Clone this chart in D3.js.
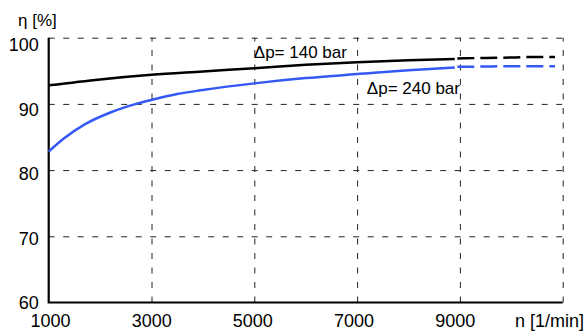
<!DOCTYPE html>
<html>
<head>
<meta charset="utf-8">
<script src="https://cdn.jsdelivr.net/npm/d3@7"></script>
<style>
  html, body { margin: 0; padding: 0; background: #fff; }
  svg { display: block; font-family: "Liberation Sans", Arial, sans-serif; }
</style>
</head>
<body>
<svg id="chart" width="586" height="333"></svg>
<script>
// speed [1/min]
const speed140Solid = [1000, 2000, 3000, 4000, 5000, 6000, 7000, 8000, 8900];
const speed240Solid = [1000, 1300, 1700, 2200, 2700, 3000, 3500, 4000, 5000, 6000, 7000, 8000, 8900];
const speedDashed = [8950, 9500, 10000, 10500, 10850];

// efficiency [%] at dp = 140 bar
const eff140Solid = [92.8, 93.7, 94.4, 94.9, 95.4, 95.9, 96.3, 96.6, 96.8];
const eff140Dashed = [96.85, 96.95, 97.0, 97.1, 97.1];

// efficiency [%] at dp = 240 bar
const eff240Solid = [82.8, 84.8, 86.9, 88.7, 90.0, 90.6, 91.5, 92.1, 93.1, 93.9, 94.5, 95.1, 95.5];
const eff240Dashed = [95.6, 95.65, 95.7, 95.7, 95.7];

const xTicks = [1000, 3000, 5000, 7000, 9000, 11000];
const yTicks = [60, 70, 80, 90, 100];

// annotation anchors in data units
const labels = [
  { text: "\u0394p= 140 bar", n: 4990, eta: 96.95 },
  { text: "\u0394p= 240 bar", n: 7190, eta: 91.45 },
];

const svg = d3.select("#chart");
const margin = { top: 37.7, right: 23.3, bottom: 30.5, left: 48.7 },
  width = 586 - margin.left - margin.right,
  height = 333 - margin.top - margin.bottom;

const xScale = d3.scaleLinear().domain([1000, 11000]).range([0, width]);
const yScale = d3.scaleLinear().domain([60, 100]).range([height, 0]);
// tick labels in the original sit on a slightly tighter spacing than the grid
const xLabelScale = d3.scaleLinear().domain([1000, 9000]).range([1.3, 406]);
const yLabelScale = d3.scaleLinear().domain([60, 100]).range([height - 0.5, 6.5]);

const g = svg.append("g").attr("transform", `translate(${margin.left},${margin.top})`);

// dashed grid
g.append("g")
  .attr("class", "grid grid--x")
  .attr("transform", `translate(0,${height})`)
  .call(d3.axisBottom(xScale).tickValues(xTicks.slice(1)).tickSize(-height).tickFormat(() => ""))
  .call((s) => s.select(".domain").remove())
  .selectAll("line")
  .attr("stroke", "#222")
  .attr("stroke-width", 1)
  .attr("stroke-dasharray", "6,8.5");
g.append("g")
  .attr("class", "grid grid--y")
  .call(d3.axisLeft(yScale).tickValues(yTicks.slice(1)).tickSize(-width).tickFormat(() => ""))
  .call((s) => s.select(".domain").remove())
  .selectAll("line")
  .attr("stroke", "#222")
  .attr("stroke-width", 1)
  .attr("stroke-dasharray", "6,8.5");

// tick labels
const xAxis = g.append("g")
  .attr("transform", `translate(0,${height})`)
  .call(d3.axisBottom(xLabelScale).tickValues(xTicks.slice(0, -1)).tickSize(0).tickPadding(12).tickFormat(d3.format("d")));
xAxis.select(".domain").remove();
xAxis.selectAll("text").attr("font-size", 18).attr("fill", "#000").attr("font-family", null);

const yAxis = g.append("g")
  .call(d3.axisLeft(yLabelScale).tickValues(yTicks).tickSize(0).tickPadding(10).tickFormat(d3.format("d")));
yAxis.select(".domain").remove();
yAxis.selectAll("text").attr("font-size", 18).attr("fill", "#000").attr("font-family", null).attr("dy", "0.36em");

// solid axis lines
g.append("path")
  .attr("d", `M0,${yScale(100)}V${height}H${xScale(11000)}`)
  .attr("fill", "none")
  .attr("stroke", "#000")
  .attr("stroke-width", 2.2);

// curves
const line = d3.line().x((d) => xScale(d[0])).y((d) => yScale(d[1])).curve(d3.curveMonotoneX);
const series = [
  { n: speed140Solid, v: eff140Solid, color: "#000", dash: null },
  { n: speedDashed, v: eff140Dashed, color: "#000", dash: "17,6" },
  { n: speed240Solid, v: eff240Solid, color: "#3459f5", dash: null },
  { n: speedDashed, v: eff240Dashed, color: "#3459f5", dash: "17,6" },
];
g.selectAll(".curve")
  .data(series)
  .join("path")
  .attr("class", "curve")
  .attr("d", (s) => line(d3.zip(s.n, s.v)))
  .attr("fill", "none")
  .attr("stroke", (s) => s.color)
  .attr("stroke-width", 2.5)
  .attr("stroke-dasharray", (s) => s.dash);

// annotations
g.selectAll(".note")
  .data(labels)
  .join("text")
  .attr("class", "note")
  .attr("x", (d) => xScale(d.n))
  .attr("y", (d) => yScale(d.eta))
  .attr("font-size", 17)
  .text((d) => d.text);

// axis titles
svg.append("text").attr("x", 18).attr("y", 26).attr("font-size", 17).text("\u03B7 [%]");
svg.append("text").attr("x", 584).attr("y", 327).attr("text-anchor", "end").attr("font-size", 18).text("n [1/min]");
</script>
</body>
</html>
